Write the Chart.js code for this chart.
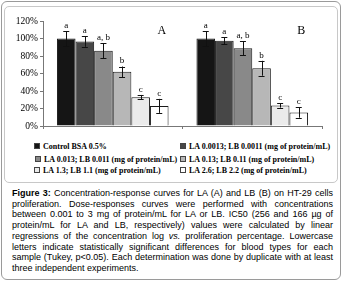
<!DOCTYPE html>
<html>
<head>
<meta charset="utf-8">
<script src="https://cdn.jsdelivr.net/npm/chart.js@4.4.1/dist/chart.umd.min.js"></script>
<style>
    html, body { margin: 0; padding: 0; background: #fff; }
    body { width: 345px; height: 286px; position: relative; overflow: hidden; }
    .outer { position: absolute; left: 1px; top: 1px; width: 340px; height: 279px; border: 1px solid #9a9a9a; border-radius: 6px; box-sizing: border-box; }
    .panel { position: absolute; left: 4px; top: 6px; width: 334px; height: 177px; border: 1px solid #c8c8c8; border-radius: 5px; box-sizing: border-box; }
    #wrap { position: absolute; left: 0; top: 0; width: 345px; height: 140px; }
    .legend { position: absolute; left: 0; top: 0; font: bold 8px "Liberation Serif", "Times New Roman", serif; color: #000; }
    .legend .item { position: absolute; white-space: nowrap; display: flex; align-items: center; height: 10px; }
    .legend .sw { width: 4px; height: 4px; border: 1px solid #444; margin-right: 3px; }
    .caption { position: absolute; left: 12px; top: 188px; width: 321px; font: 9px "Liberation Sans", Arial, sans-serif; line-height: 10.7px; color: #000; }
    .caption div { text-align: justify; text-align-last: justify; }
    .caption div.last { text-align: left; text-align-last: left; }
</style>
</head>
<body>
<div class="outer"></div>
<div class="panel"></div>
<div id="wrap"><canvas id="chart"></canvas></div>
<div class="legend" id="legend"></div>
<div class="caption">
    <div><b>Figure 3:</b> Concentration-response curves for LA (A) and LB (B) on HT-29 cells</div>
    <div>proliferation. Dose-responses curves were performed with concentrations</div>
    <div>between 0.001 to 3 mg of protein/mL for LA or LB. IC50 (256 and 166 µg of</div>
    <div>protein/mL for LA and LB, respectively) values were calculated by linear</div>
    <div>regressions of the concentration log <i>vs.</i> proliferation percentage. Lowercase</div>
    <div>letters indicate statistically significant differences for blood types for each</div>
    <div>sample (Tukey, p&lt;0.05). Each determination was done by duplicate with at least</div>
    <div class="last">three independent experiments.</div>
</div>
<script>
// Data (percent of control proliferation)
const groups = ['A', 'B'];
const seriesLabels = [
    'Control BSA 0.5%',
    'LA 0.0013; LB 0.0011 (mg of protein/mL)',
    'LA 0.013; LB 0.011 (mg of protein/mL)',
    'LA 0.13; LB 0.11 (mg of protein/mL)',
    'LA 1.3; LB 1.1 (mg of protein/mL)',
    'LA 2.6; LB 2.2 (mg of protein/mL)'
];
const meanA = [100, 96.5, 86, 62, 33, 23];
const errA = [8.5, 6, 8.5, 6, 2.5, 8];
const meanB = [100, 97.5, 89, 66, 23.5, 15.5];
const errB = [8.5, 4, 8, 8.5, 2.5, 6];
const letters = ['a', 'a', 'a, b', 'b', 'c', 'c'];
const yTicks = [0, 20, 40, 60, 80, 100, 120];

const barColors = ['#151515', '#474747', '#898989', '#b7b7b7', '#ebebeb', '#ffffff'];

// legend (two columns, three rows) - rows are not evenly spaced in the original
const legendRows = [141, 154, 165];
const legendEl = document.getElementById('legend');
seriesLabels.forEach((label, i) => {
    const item = document.createElement('div');
    item.className = 'item';
    let left = i % 2 === 0 ? 34 : 180;
    if (i === 2) left = 35; // second row, left column sits a bit further right
    item.style.left = left + 'px';
    item.style.top = legendRows[Math.floor(i / 2)] + 'px';
    item.innerHTML = '<span class="sw" style="background:' + barColors[i] + '"></span>' + label;
    legendEl.appendChild(item);
});

// error bars, significance letters and panel names
const annotations = {
    id: 'annotations',
    afterDatasetsDraw(chart) {
        const ctx = chart.ctx;
        const yScale = chart.scales.y;
        const xScale = chart.scales.x;
        ctx.save();
        chart.data.datasets.forEach((ds, i) => {
            const meta = chart.getDatasetMeta(i);
            meta.data.forEach((bar, j) => {
                const v = ds.data[j];
                const e = ds.errors[j];
                const top = yScale.getPixelForValue(v + e);
                const bot = yScale.getPixelForValue(v - e);
                ctx.strokeStyle = '#111';
                ctx.lineWidth = 1;
                ctx.beginPath();
                ctx.moveTo(Math.round(bar.x) + 0.5, top);
                ctx.lineTo(Math.round(bar.x) + 0.5, bot);
                ctx.moveTo(bar.x - 3, Math.round(top) + 0.5);
                ctx.lineTo(bar.x + 3, Math.round(top) + 0.5);
                ctx.moveTo(bar.x - 3, Math.round(bot) + 0.5);
                ctx.lineTo(bar.x + 3, Math.round(bot) + 0.5);
                ctx.stroke();

                ctx.fillStyle = '#000';
                ctx.font = '9px "Liberation Serif", serif';
                ctx.textAlign = 'center';
                ctx.textBaseline = 'bottom';
                ctx.fillText(letters[i], bar.x, top - 1);
            });
        });
        ctx.font = '12px "Liberation Serif", serif';
        ctx.textAlign = 'center';
        ctx.textBaseline = 'middle';
        groups.forEach((g, j) => {
            ctx.fillText(g, xScale.getPixelForValue(j) + 49, chart.chartArea.top + 10);
        });
        ctx.restore();
    }
};

new Chart(document.getElementById('chart'), {
    type: 'bar',
    data: {
        labels: groups,
        datasets: seriesLabels.map((label, i) => ({
            label: label,
            data: [meanA[i], meanB[i]],
            errors: [errA[i], errB[i]],
            backgroundColor: barColors[i],
            borderColor: '#1a1a1a',
            borderWidth: 1,
            borderSkipped: 'bottom',
            categoryPercentage: 0.8,
            barPercentage: 1.0
        }))
    },
    options: {
        responsive: true,
        maintainAspectRatio: false,
        animation: false,
        layout: { padding: { left: 0, right: 23, top: 21, bottom: 11 } },
        plugins: { legend: { display: false }, tooltip: { enabled: false } },
        scales: {
            x: {
                ticks: { display: false },
                grid: { drawOnChartArea: false, drawTicks: true, tickLength: 3, color: '#777' },
                border: { color: '#777' },
                afterFit(scale) { scale.height = 3; }
            },
            y: {
                min: 0,
                max: 120,
                afterBuildTicks(scale) { scale.ticks = yTicks.map(v => ({ value: v })); },
                ticks: {
                    padding: 2,
                    color: '#000',
                    font: { family: '"Liberation Serif", serif', size: 9.5 },
                    callback: v => v + '%'
                },
                grid: { drawOnChartArea: false, drawTicks: true, tickLength: 3, color: '#777' },
                border: { color: '#777' },
                afterFit(scale) { scale.width = 43; }
            }
        }
    },
    plugins: [annotations]
});
</script>
</body>
</html>
